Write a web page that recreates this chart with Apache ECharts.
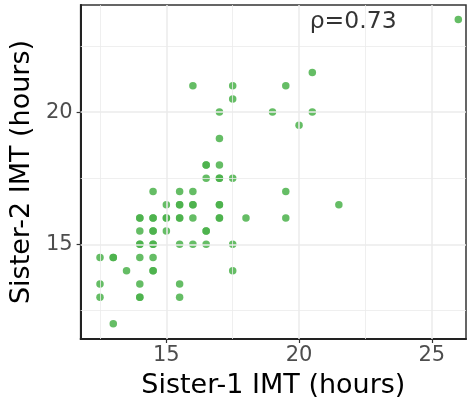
<!DOCTYPE html>
<html><head><meta charset="utf-8">
<script src="https://cdn.jsdelivr.net/npm/echarts@6/dist/echarts.min.js"></script>
<style>html,body{margin:0;padding:0;background:#fff}#c{width:467px;height:404px}</style>
</head><body><div id="c"></div>
<script>
// Sister-1 IMT (hours) and Sister-2 IMT (hours); repeated pairs are overlapping cells
const sister1 = [26,20.5,16,17.5,19.5,17.5,17,19,20.5,20,17,17,16.5,17.5,14.5,15.5,16,19.5,15,21.5,16,18,19.5,14,15,15.5,16,16.5,17.5,12.5,14,14.5,13.5,17.5,12.5,14,15.5,12.5,15.5,13,
  16.5,16.5,17,17,15.5,15.5,16,16,17,17,14,14,14.5,14.5,15,15,15.5,15.5,17,17,14.5,14.5,16.5,16.5,14,14,14.5,14.5,13,13,14.5,14.5,14,14];
const sister2 = [23.5,21.5,21,21,21,20.5,20,20,20,19.5,19,18,17.5,17.5,17,17,17,17,16.5,16.5,16,16,16,15.5,15.5,15,15,15,15,14.5,14.5,14.5,14,14,13.5,13.5,13.5,13,13,12,
  18,18,17.5,17.5,16.5,16.5,16.5,16.5,16.5,16.5,16,16,16,16,16,16,16,16,16,16,15.5,15.5,15.5,15.5,15,15,15,15,14.5,14.5,14,14,13,13];
const xTicks = [15, 20, 25];
const yTicks = [15, 20];
const xMinor = [12.5, 17.5, 22.5];
const yMinor = [12.5, 17.5, 22.5];
const rhoLabel = 'ρ=0.73';
const rhoPos = [22, 23.5];

const FONT = 'DejaVu Sans';
const pts = sister1.map((v, i) => [v, sister2[i]]);
const gridLines = [];
xMinor.forEach(v => gridLines.push({xAxis: v, lineStyle: {color: '#ebebeb', width: 0.8, type: 'solid'}}));
yMinor.forEach(v => gridLines.push({yAxis: v, lineStyle: {color: '#ebebeb', width: 0.8, type: 'solid'}}));
xTicks.forEach(v => gridLines.push({xAxis: v, lineStyle: {color: '#ebebeb', width: 1.5, type: 'solid'}}));
yTicks.forEach(v => gridLines.push({yAxis: v, lineStyle: {color: '#ebebeb', width: 1.5, type: 'solid'}}));

const chart = echarts.init(document.getElementById('c'), null, {renderer: 'canvas'});
chart.setOption({
  animation: false,
  backgroundColor: '#fff',
  grid: {left: 78, right: 1, top: 5, bottom: 63, show: true, borderColor: '#333', borderWidth: 1.5, backgroundColor: 'transparent'},
  xAxis: {
    type: 'value', min: 11.77, max: 26.29,
    name: 'Sister-1 IMT (hours)', nameLocation: 'middle', nameGap: 33,
    nameTextStyle: {fontFamily: FONT, fontSize: 27, color: '#000'},
    axisLine: {show: true, onZero: false, lineStyle: {color: '#222', width: 2}},
    axisTick: {show: true, length: 4, lineStyle: {color: '#333', width: 1.2}, customValues: xTicks},
    axisLabel: {fontFamily: FONT, fontSize: 21, color: '#4d4d4d', margin: 6, customValues: xTicks},
    splitLine: {show: false}
  },
  yAxis: {
    type: 'value', min: 11.42, max: 24.05,
    name: 'Sister-2 IMT (hours)', nameLocation: 'middle', nameGap: 38,
    nameTextStyle: {fontFamily: FONT, fontSize: 27, color: '#000'},
    axisLine: {show: true, onZero: false, lineStyle: {color: '#222', width: 2}},
    axisTick: {show: true, length: 4, lineStyle: {color: '#333', width: 1.2}, customValues: yTicks},
    axisLabel: {fontFamily: FONT, fontSize: 21, color: '#4d4d4d', margin: 8, customValues: yTicks},
    splitLine: {show: false}
  },
  series: [
    {
      type: 'scatter', data: [], silent: true, z: 1,
      markLine: {silent: true, symbol: 'none', label: {show: false}, animation: false, data: gridLines}
    },
    {
      type: 'scatter', z: 3, symbol: 'circle', symbolSize: 7.5,
      itemStyle: {color: 'rgb(74,178,74)', opacity: 0.85},
      data: pts
    },
    {
      type: 'scatter', z: 4, symbolSize: 0,
      data: [rhoPos],
      label: {show: true, position: 'inside', offset: [1, 2], formatter: rhoLabel, fontFamily: FONT, fontSize: 23.5, color: '#000'}
    }
  ]
});
</script>
</body></html>
